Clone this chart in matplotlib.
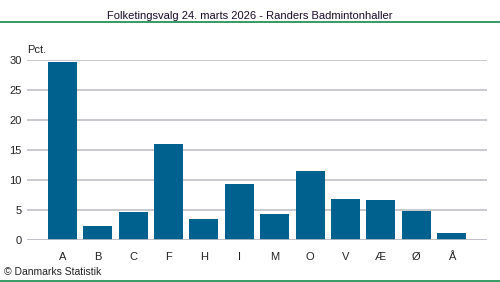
import matplotlib.pyplot as plt
from matplotlib.lines import Line2D

parties = ["A", "B", "C", "F", "H", "I", "M", "O", "V", "Æ", "Ø", "Å"]
pct = [29.6, 2.3, 4.7, 16.0, 3.5, 9.3, 4.3, 11.5, 6.8, 6.7, 4.8, 1.2]
yticks = [0, 5, 10, 15, 20, 25, 30]

plt.rcParams['font.family'] = ['Liberation Sans', 'DejaVu Sans']

fig = plt.figure(figsize=(5, 2.82), dpi=100)
ax = fig.add_axes([0.054, 0.149, 0.92, 0.638])

x = range(len(parties))
ax.bar(x, pct, width=0.82, color="#00618f", zorder=3)
ax.set_xlim(-1, len(parties))
ax.set_ylim(0, 30)
ax.set_yticks(yticks)
ax.set_xticks(list(x))
ax.set_xticklabels(parties)
ax.grid(axis="y", color="#c0c0c8", linewidth=1.2, zorder=0)
for s in ax.spines.values():
    s.set_visible(False)
ax.tick_params(length=0, labelsize=8, colors="#222222")
ax.tick_params(axis="x", pad=9)
ax.tick_params(axis="y", pad=4)
ax.axhline(0, color="#c0c0c8", linewidth=1.2, zorder=4)

ax.text(0.0, 1.03, "Pct.", transform=ax.transAxes, fontsize=8, color="#222222", ha="left", va="bottom")

fig.text(0.5, 0.945, "Folketingsvalg 24. marts 2026 - Randers Badmintonhaller",
         ha="center", va="center", fontsize=8, color="#1a0a2a")
fig.add_artist(Line2D([0, 1], [0.922, 0.922], transform=fig.transFigure, color="#138a4a", linewidth=1.2))
fig.add_artist(Line2D([0, 1], [0.003, 0.003], transform=fig.transFigure, color="#138a4a", linewidth=1.2))
fig.text(0.008, 0.035, "© Danmarks Statistik", ha="left", va="center", fontsize=7.5, color="#222222")

fig.savefig("out.png", dpi=100, facecolor="white")
